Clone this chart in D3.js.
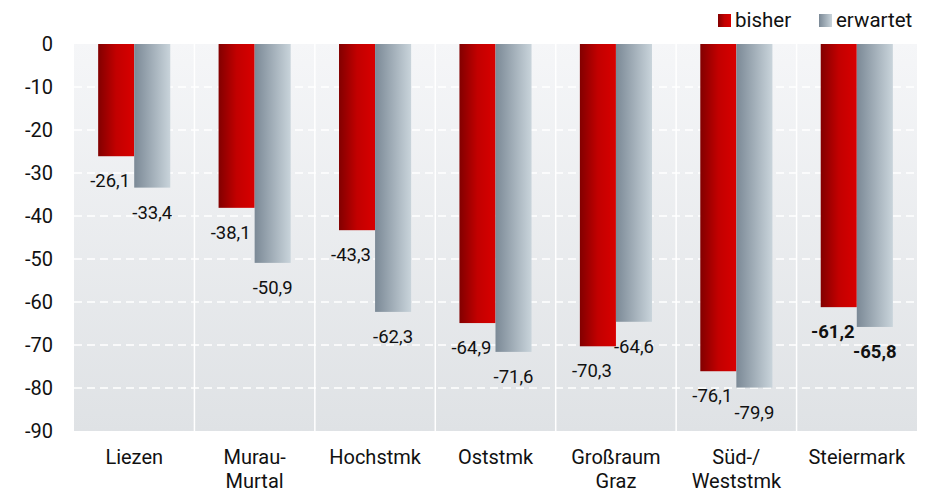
<!DOCTYPE html>
<html>
<head>
<meta charset="utf-8">
<script src="https://cdn.jsdelivr.net/npm/d3@7"></script>
<style>
  body { margin: 0; background: #fff; }
  svg { display: block; font-family: Roboto, "Noto Sans", sans-serif; }
</style>
</head>
<body>
<svg id="chart" width="933" height="489"></svg>
<script>
const categories = [['Liezen'], ['Murau-', 'Murtal'], ['Hochstmk'], ['Oststmk'], ['Großraum', 'Graz'], ['Süd-/', 'Weststmk'], ['Steiermark']]
const bisher = [-26.1, -38.1, -43.3, -64.9, -70.3, -76.1, -61.2]
const erwartet = [-33.4, -50.9, -62.3, -71.6, -64.6, -79.9, -65.8]
const yTicks = [0, -10, -20, -30, -40, -50, -60, -70, -80, -90]
const seriesNames = ['bisher', 'erwartet']

const svg = d3.select('#chart')
const plotLeft = 74, plotRight = 917, plotTop = 44, plotBottom = 431

const x = d3.scaleBand().domain(d3.range(categories.length)).range([plotLeft, plotRight])
const inner = d3.scaleBand().domain([0, 1]).range([0, x.bandwidth()]).paddingOuter(0.67).paddingInner(0)
const y = d3.scaleLinear().domain([0, -90]).range([plotTop, plotBottom])

const defs = svg.append('defs')
const bg = defs.append('linearGradient').attr('id', 'bg').attr('x1', 0).attr('y1', 0).attr('x2', 0).attr('y2', 1)
bg.append('stop').attr('offset', 0).attr('stop-color', '#f5f6f8')
bg.append('stop').attr('offset', 1).attr('stop-color', '#dfe2e5')

const red = defs.append('linearGradient').attr('id', 'red')
red.append('stop').attr('offset', 0).attr('stop-color', '#820000')
red.append('stop').attr('offset', 0.5).attr('stop-color', '#c20000')
red.append('stop').attr('offset', 1).attr('stop-color', '#d80000')

const grey = defs.append('linearGradient').attr('id', 'grey')
grey.append('stop').attr('offset', 0).attr('stop-color', '#7b8996')
grey.append('stop').attr('offset', 1).attr('stop-color', '#c9d4db')

const fills = ['url(#red)', 'url(#grey)']

// plot background
svg.append('rect')
  .attr('x', plotLeft).attr('y', plotTop)
  .attr('width', plotRight - plotLeft).attr('height', plotBottom - plotTop)
  .attr('fill', 'url(#bg)')

// dashed horizontal grid
svg.append('g')
  .selectAll('line')
  .data(yTicks.filter((t) => t !== 0 && t !== -90))
  .join('line')
  .attr('x1', plotLeft).attr('x2', plotRight)
  .attr('y1', (d) => y(d)).attr('y2', (d) => y(d))
  .attr('stroke', '#fff')
  .attr('stroke-width', 1.3)
  .attr('stroke-dasharray', '8,5')

// vertical separators
svg.append('g')
  .selectAll('line')
  .data(d3.range(1, categories.length))
  .join('line')
  .attr('x1', (d) => x(d)).attr('x2', (d) => x(d))
  .attr('y1', plotTop).attr('y2', plotBottom)
  .attr('stroke', '#fff')
  .attr('stroke-width', 1.5)

// y axis
const yAxis = svg.append('g')
  .attr('transform', `translate(${plotLeft - 21},0)`)
  .call(d3.axisLeft(y).tickValues(yTicks).tickSize(0).tickPadding(0).tickFormat((d) => String(d)))
yAxis.select('.domain').remove()
yAxis.selectAll('text')
  .attr('font-family', 'Roboto, sans-serif')
  .attr('font-size', 20)
  .attr('fill', '#111')

// bars
const series = [bisher, erwartet]
series.forEach((values, s) => {
  svg.append('g')
    .selectAll('rect')
    .data(values)
    .join('rect')
    .attr('x', (d, i) => x(i) + inner(s))
    .attr('y', y(0))
    .attr('width', inner.bandwidth())
    .attr('height', (d) => y(d) - y(0))
    .attr('fill', fills[s])

  svg.append('g')
    .selectAll('text')
    .data(values)
    .join('text')
    .attr('x', (d, i) => x(i) + inner(s) + inner.bandwidth() / 2 - (s === 0 ? 6 : 0))
    .attr('y', (d) => y(d) + 31)
    .attr('text-anchor', 'middle')
    .attr('font-size', 18.5)
    .attr('font-weight', (d, i) => (i === categories.length - 1 ? 700 : 400))
    .attr('fill', '#111')
    .text((d) => d3.format('.1f')(d).replace('.', ',').replace('−', '-'))
})

// category labels
svg.append('g')
  .selectAll('text')
  .data(categories)
  .join('text')
  .attr('x', (d, i) => x(i) + x.bandwidth() / 2)
  .attr('y', 464)
  .attr('text-anchor', 'middle')
  .attr('font-size', 20)
  .attr('fill', '#111')
  .each(function (lines) {
    const el = d3.select(this)
    lines.forEach((line, i) => {
      el.append('tspan')
        .attr('x', el.attr('x'))
        .attr('dy', i === 0 ? 0 : 24)
        .text(line)
    })
  })

// legend
const legendX = [718, 819]
const legend = svg.append('g')
  .selectAll('g')
  .data(seriesNames)
  .join('g')
  .attr('transform', (d, i) => `translate(${legendX[i]},14)`)
legend.append('rect')
  .attr('width', 13).attr('height', 13)
  .attr('fill', (d, i) => fills[i])
legend.append('text')
  .attr('x', 17).attr('y', 13)
  .attr('font-size', 20.5)
  .attr('fill', '#111')
  .text((d) => d)
</script>
</body>
</html>
